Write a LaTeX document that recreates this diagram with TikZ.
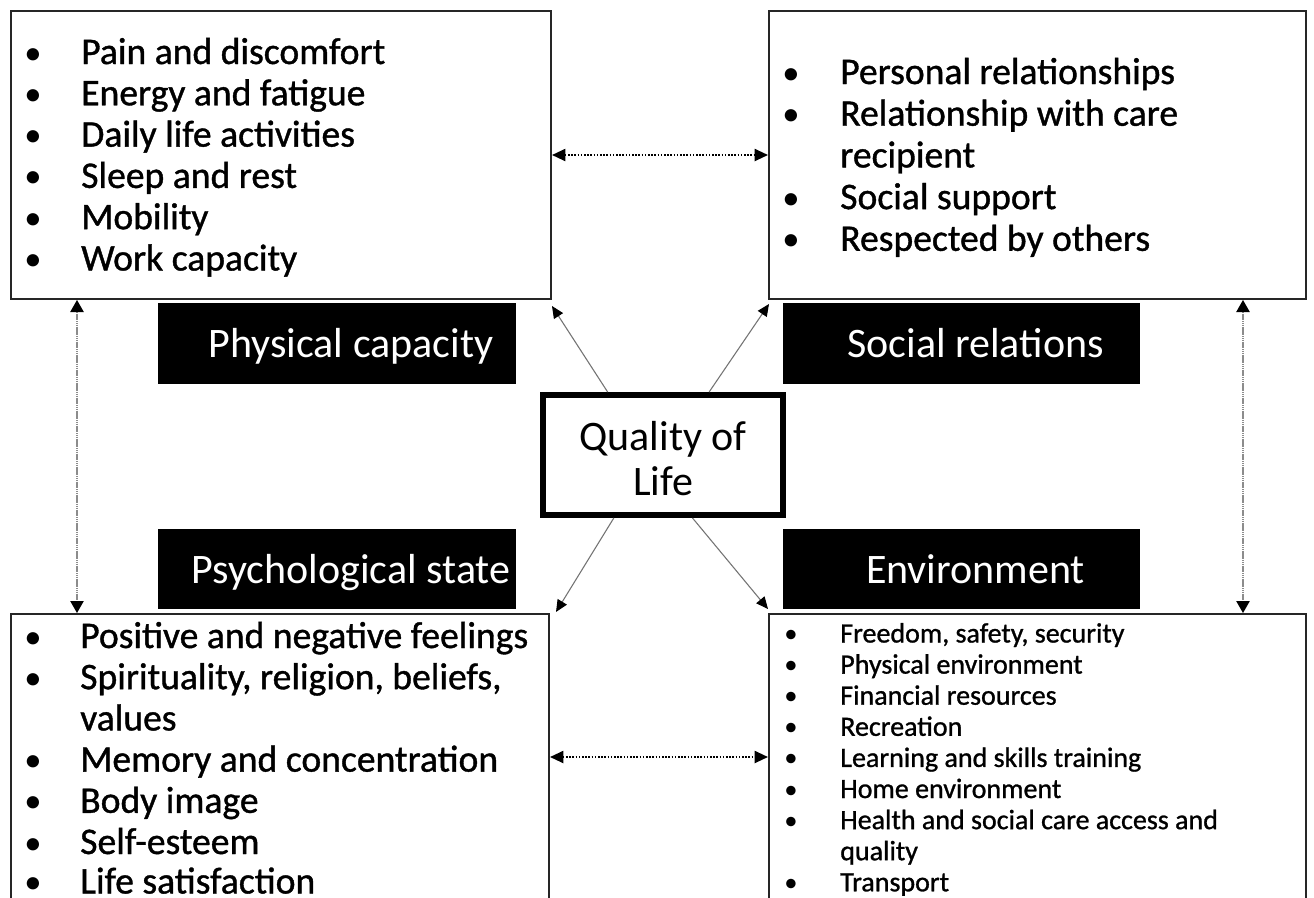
\documentclass[tikz,border=0pt]{standalone}
\usepackage{fontspec}
\setmainfont{Carlito}
\newfontfamily\itemfont{Carlito}[FakeBold=1.0]
\usetikzlibrary{arrows.meta,calc}
\newcommand{\labshift}{\hspace*{21pt}}
\begin{document}
\begin{tikzpicture}[x=0.75pt,y=-0.75pt,
  box/.style={draw=black!85, line width=1.5pt, anchor=north west, inner sep=0pt},
  lab/.style={fill=black, text=white, inner sep=0pt, anchor=center,
    font=\fontsize{31.5pt}{36pt}\selectfont, text height=29.5pt, text depth=8pt},
  itm/.style={anchor=base west, inner sep=0pt, font=\itemfont\fontsize{28.2pt}{33pt}\selectfont},
  bul/.style={anchor=base, inner sep=0pt, font=\fontsize{26pt}{33pt}\selectfont},
  itms/.style={itm, font=\itemfont\fontsize{21pt}{25pt}\selectfont},
  buls/.style={bul, font=\fontsize{20pt}{25pt}\selectfont},
  diag/.style={-{Triangle[length=9pt,width=8pt,color=black]}, draw=black!55, line width=0.8pt},
  dots/.style={{Triangle[length=10pt,width=9pt]}-{Triangle[length=10pt,width=9pt]}, line width=1.5pt, dash pattern=on 1.2pt off 1.2pt},
  vert/.style={{Triangle[length=9pt,width=10pt,color=black]}-{Triangle[length=9pt,width=10pt,color=black]}, draw=black!45, line width=1pt, dash pattern=on 1pt off 0.4pt}
]
\clip (0,0) rectangle (1314,897);
\fill[white] (0,0) rectangle (1314,897);

% boxes
\node[box, minimum width=540*0.75pt, minimum height=288*0.75pt] (tl) at (10,10) {};
\node[box, minimum width=537*0.75pt, minimum height=288*0.75pt] (tr) at (768,10) {};
\node[box, minimum width=538*0.75pt, minimum height=300*0.75pt] (bl) at (10,613) {};
\node[box, minimum width=537*0.75pt, minimum height=300*0.75pt] (br) at (768,613) {};

% labels
\node[lab, minimum width=358*0.75pt, minimum height=81*0.75pt] (pc) at (337,343.5) {\labshift Physical capacity};
\node[lab, minimum width=357*0.75pt, minimum height=81*0.75pt] (sr) at (961.5,343.5) {\labshift Social relations};
\node[lab, minimum width=358*0.75pt, minimum height=80*0.75pt] (ps) at (337,569) {\labshift Psychological state};
\node[lab, minimum width=357*0.75pt, minimum height=80*0.75pt] (en) at (961.5,569) {\labshift Environment};

% centre
\node[draw=black, line width=4.5pt, inner sep=0pt, minimum width=240*0.75pt, minimum height=120*0.75pt,
  font=\fontsize{31.5pt}{33.75pt}\selectfont] (q) at (663,455)
  {\raisebox{-6.5pt}[\height][\depth]{\begin{tabular}{@{}c@{}}Quality of\\Life\end{tabular}}};

% items top-left
\foreach \y/\b/\t [count=\i] in {64/1/{Pain and discomfort}, 105.3/1/{Energy and fatigue}, 146.6/1/{Daily life activities},
  187.9/1/{Sleep and rest}, 229.2/1/{Mobility}, 270.5/1/{Work capacity}} {
  \node[itm] (tlt\i) at (81,\y) {\t};
  \ifnum\b=1 \node[bul] (tlb\i) at (33,\y) {•}; \fi
}
% items top-right
\foreach \y/\b/\t [count=\i] in {84/1/{Personal relationships}, 125.7/1/{Relationship with care}, 167.4/0/{recipient},
  209.1/1/{Social support}, 250.8/1/{Respected by others}} {
  \node[itm] (trt\i) at (840,\y) {\t};
  \ifnum\b=1 \node[bul] (trb\i) at (791,\y) {•}; \fi
}
% items bottom-left
\foreach \y/\b/\t [count=\i] in {648/1/{Positive and negative feelings}, 689.2/1/{Spirituality, religion, beliefs,}, 730.4/0/{values},
  771.6/1/{Memory and concentration}, 812.8/1/{Body image}, 854/1/{Self-esteem}, 893.5/1/{Life satisfaction}} {
  \node[itm] (blt\i) at (80,\y) {\t};
  \ifnum\b=1 \node[bul] (blb\i) at (33,\y) {•}; \fi
}
% items bottom-right
\foreach \y/\b/\t [count=\i] in {642.5/1/{Freedom, safety, security}, 673.6/1/{Physical environment}, 704.7/1/{Financial resources},
  735.8/1/{Recreation}, 766.9/1/{Learning and skills training}, 798/1/{Home environment},
  829.1/1/{Health and social care access and}, 860.2/0/{quality}, 891.3/1/{Transport}} {
  \node[itms] (brt\i) at (840,\y) {\t};
  \ifnum\b=1 \node[buls] (brb\i) at (791,\y) {•}; \fi
}

% connectors
\coordinate (t1) at (552,306);
\coordinate (t2) at (769,304);
\coordinate (t3) at (556,612);
\coordinate (t4) at (768,609);
\draw[diag] ($(q.north west)!0.275!(q.north east)$) -- (t1);
\draw[diag] ($(q.north west)!0.6875!(q.north east)$) -- (t2);
\draw[diag] ($(q.south west)!0.30!(q.south east)$) -- (t3);
\draw[diag] ($(q.south west)!0.62!(q.south east)$) -- (t4);

\coordinate (hb) at (0,757);
\coordinate (vl) at (77,0);
\coordinate (vr) at (1243,0);
\draw[dots] (tl.east) -- (tr.west);
\draw[dots] (bl.east |- hb) -- (br.west |- hb);
\draw[vert] (tl.south -| vl) -- (bl.north -| vl);
\draw[vert] (tr.south -| vr) -- (br.north -| vr);
\end{tikzpicture}
\end{document}
